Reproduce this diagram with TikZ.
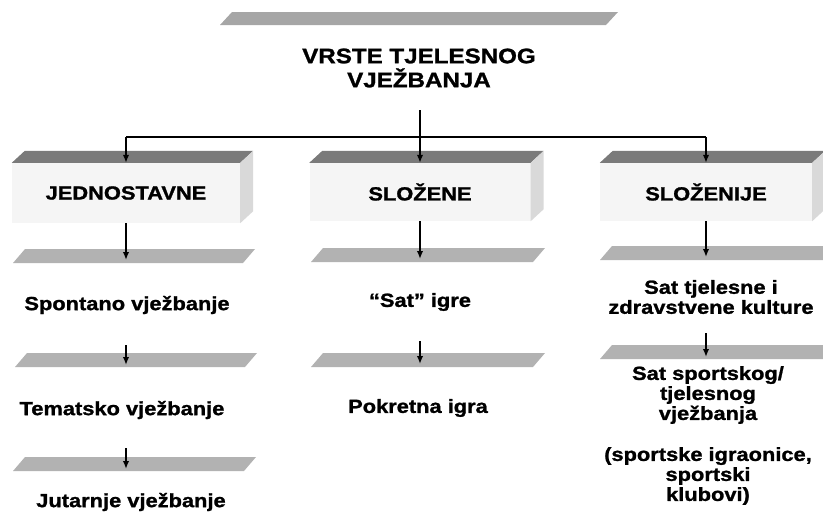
\documentclass[tikz,border=0pt]{standalone}
\usepackage{fontspec}
\setmainfont{Liberation Sans}[FakeStretch=1.15, BoldFeatures={FakeBold=1.3}]
\usetikzlibrary{arrows.meta}

\tikzset{
	heading/.style={font=\bfseries\fontsize{19}{20}\selectfont, align=center, inner sep=0pt},
	front/.style={fill=black!4, inner sep=0pt, font=\bfseries\fontsize{19}{20}\selectfont},
	line/.style={line width=1.6pt},
	arr/.style={line width=1.6pt, -{Latex[length=8pt,width=6.5pt]}},
}

\begin{document}
\begin{tikzpicture}[x=1pt,y=-1pt]
	
	\useasboundingbox (0,0) rectangle (823,523);
	\clip (0,0) rectangle (823,523);
	
	% title
	\fill[black!35] (220,25) -- (232,12) -- (618,12) -- (606,25) -- cycle;
	\node[heading, font=\bfseries\fontsize{21}{24}\selectfont] (title) at (419,68) {VRSTE TJELESNOG\\VJEŽBANJA};
	
	% boxes
	\node[front, minimum width=228, minimum height=60] (jedn) at (126,193) {JEDNOSTAVNE};
	\node[front, minimum width=221, minimum height=58] (sloz) at (420,192) {SLOŽENE};
	\node[front, minimum width=212, minimum height=58] (slozn) at (706,192) {SLOŽENIJE};
	
	\foreach \b in {jedn,sloz,slozn}
	{
		\fill[black!52] (\b.north west) -- ++(13,-12) -- ([shift={(13,-12)}]\b.north east) -- (\b.north east) -- cycle;
		\fill[black!15] (\b.north east) -- ++(13,-12) -- ([shift={(13,-12)}]\b.south east) -- (\b.south east) -- cycle;
	}
	
	% thin bars
	\foreach \x/\y/\w in {13/263/230, 15/367/230, 13/471/231, 311/262/222, 311/367/222, 600/260/235, 600/359/235}
	{
		\fill[black!30] (\x,\y) -- ++(12,-14) -- ++(\w,0) -- ++(-12,14) -- cycle;
	}
	
	% texts
	\node[heading] (spont) at (127,305) {Spontano vježbanje};
	\node[heading] (tem) at (122,410) {Tematsko vježbanje};
	\node[heading] (jut) at (131,502) {Jutarnje vježbanje};
	\node[heading] (satigre) at (420,302) {“Sat” igre};
	\node[heading] (pokr) at (418,408) {Pokretna igra};
	\node[heading] (sattz) at (711,297) {Sat tjelesne i\\zdravstvene kulture};
	\node[heading] (satsp) at (708,395) {Sat sportskog/\\tjelesnog\\vježbanja};
	\node[heading] (sportske) at (708,476) {(sportske igraonice,\\sportski\\klubovi)};
	
	% connectors
	\coordinate (stem) at (420,110);
	\coordinate (split) at (420,137);
	\draw[line] (stem) -- (split);
	\draw[line] (jedn.north |- split) -- (slozn.north |- split);
	\foreach \b in {jedn,sloz,slozn}
		\draw[arr] (\b.north |- split) -- (\b.north);
	
	\coordinate (b11) at (126,260);
	\coordinate (a12) at (126,345);
	\coordinate (b12) at (126,365);
	\coordinate (a13) at (126,448);
	\coordinate (b13) at (126,469);
	\coordinate (b21) at (420,259);
	\coordinate (a22) at (420,341);
	\coordinate (b22) at (420,364);
	\coordinate (b31) at (706,257);
	\coordinate (a32) at (706,333);
	\coordinate (b32) at (706,357);
	
	\draw[arr] (jedn.south) -- (b11);
	\draw[arr] (a12) -- (b12);
	\draw[arr] (a13) -- (b13);
	\draw[arr] (sloz.south) -- (b21);
	\draw[arr] (a22) -- (b22);
	\draw[arr] (slozn.south) -- (b31);
	\draw[arr] (a32) -- (b32);
	
\end{tikzpicture}
\end{document}
